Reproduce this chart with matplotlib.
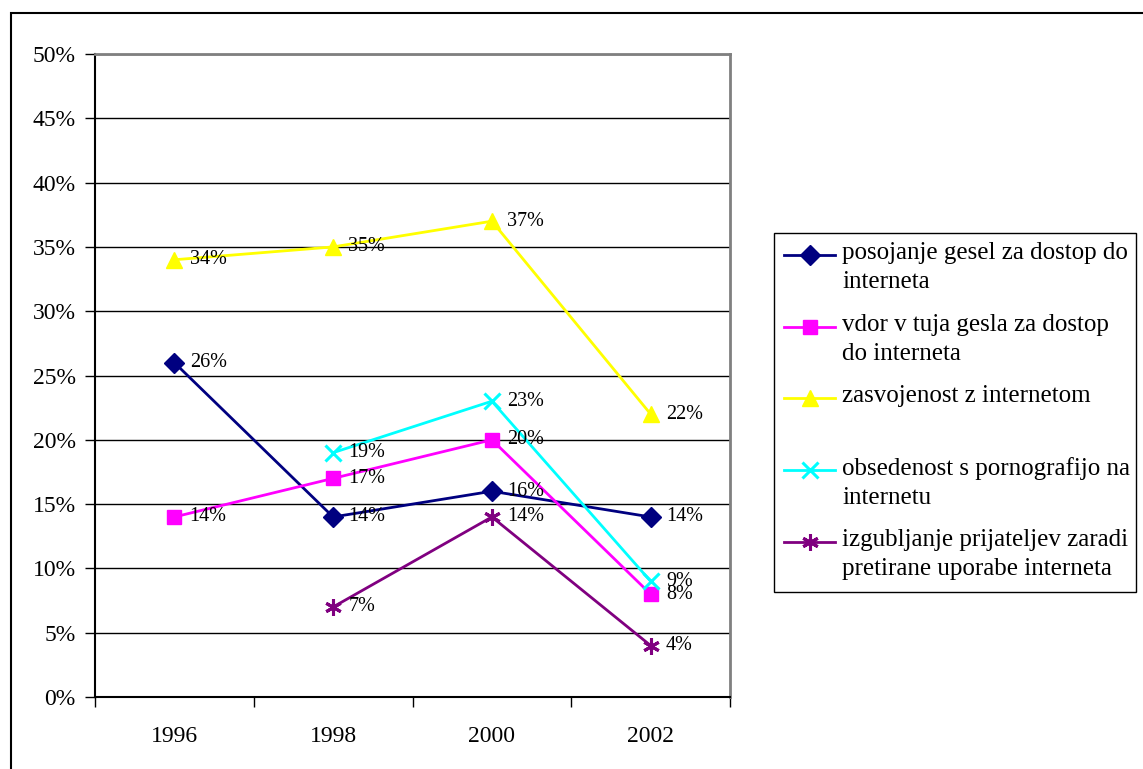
import numpy as np
import matplotlib
matplotlib.use("Agg")
import matplotlib.pyplot as plt
from matplotlib.lines import Line2D
from matplotlib.patches import Rectangle

plt.rcParams['font.family'] = ['Liberation Serif', 'DejaVu Serif']

years = ["1996", "1998", "2000", "2002"]
series_names = [
    "posojanje gesel za dostop do\ninterneta",
    "vdor v tuja gesla za dostop\ndo interneta",
    "zasvojenost z internetom",
    "obsedenost s pornografijo na\ninternetu",
    "izgubljanje prijateljev zaradi\npretirane uporabe interneta",
]
posojanje = [26, 14, 16, 14]
vdor = [14, 17, 20, 8]
zasvojenost = [34, 35, 37, 22]
obsedenost = [np.nan, 19, 23, 9]
izgubljanje = [np.nan, 7, 14, 4]
yticks = [0, 5, 10, 15, 20, 25, 30, 35, 40, 45, 50]

values = [posojanje, vdor, zasvojenost, obsedenost, izgubljanje]
colors = ["#000080", "#FF00FF", "#FFFF00", "#00FFFF", "#800080"]
markers = ["D", "s", "^", "x", (6, 2, 0)]
msizes = [10, 10, 12, 11, 12]

W, H = 1143, 769
fig = plt.figure(figsize=(W / 100, H / 100), dpi=100)
ax = fig.add_axes([95 / W, (H - 697) / H, 635 / W, 643 / H])

def mew_for(m):
    return 2.2 if (m == "x" or isinstance(m, tuple)) else 1

x = np.arange(len(years))
for vals, c, m, ms in zip(values, colors, markers, msizes):
    v = np.array(vals, dtype=float) / 100
    ax.plot(x, v, color=c, lw=2, marker=m, ms=ms, mew=mew_for(m),
            mec=c, mfc=c, zorder=3, clip_on=False)
    for xi, vi in zip(x, v):
        if np.isnan(vi):
            continue
        ax.annotate(f"{int(round(vi * 100))}%", (xi, vi), xytext=(11, 0), textcoords="offset points",
                    va="center", ha="left", fontsize=14.5, color="black", zorder=4)

ax.set_xlim(-0.5, len(years) - 0.5)
ax.set_ylim(0, 0.5)
ax.set_yticks([t / 100 for t in yticks])
ax.set_yticklabels([f"{t}%" for t in yticks], fontsize=17)
ax.yaxis.grid(True, color="black", lw=1, zorder=0)
ax.set_axisbelow(True)
ax.tick_params(axis="y", direction="out", length=7, width=1, pad=7, color="black")

ax.set_xticks(np.arange(-0.5, len(years), 1.0))
ax.set_xticklabels([])
ax.tick_params(axis="x", which="major", direction="out", length=7, width=1, color="black")
ax.set_xticks(x, minor=True)
ax.set_xticklabels(years, minor=True, fontsize=17)
ax.tick_params(axis="x", which="minor", length=0, pad=21)

for s in ("left", "bottom"):
    ax.spines[s].set_color("black")
    ax.spines[s].set_linewidth(1.5)
ax.spines["right"].set_color("#808080")
ax.spines["right"].set_linewidth(2)
ax.spines["top"].set_color("#808080")
ax.spines["top"].set_linewidth(2)

# outer frame
fig.patches.append(Rectangle((11 / W, -0.05), 1.1, (H - 13) / H + 0.05, transform=fig.transFigure,
                             fill=False, edgecolor="black", lw=1.5))

# manual legend (pixel coords from top-left)
def fx(px):
    return px / W

def fy(py):
    return 1 - py / H

fig.patches.append(Rectangle((fx(774), fy(592)), fx(1136) - fx(774), fy(233) - fy(592),
                             transform=fig.transFigure, fill=False, edgecolor="black", lw=1))
rows = [255, 327, 398, 470, 542]
for name, c, m, ms, ry in zip(series_names, colors, markers, msizes, rows):
    fig.add_artist(Line2D([fx(784), fx(835)], [fy(ry), fy(ry)], transform=fig.transFigure,
                          color=c, lw=2))
    fig.add_artist(Line2D([fx(809.5)], [fy(ry)], transform=fig.transFigure, color=c, marker=m,
                          ms=ms, mec=c, mfc=c, mew=mew_for(m)))
    fig.text(fx(842), fy(ry - 13), name, ha="left", va="top", fontsize=18, linespacing=1.42,
             transform=fig.transFigure)

fig.savefig("out.png", dpi=100)
